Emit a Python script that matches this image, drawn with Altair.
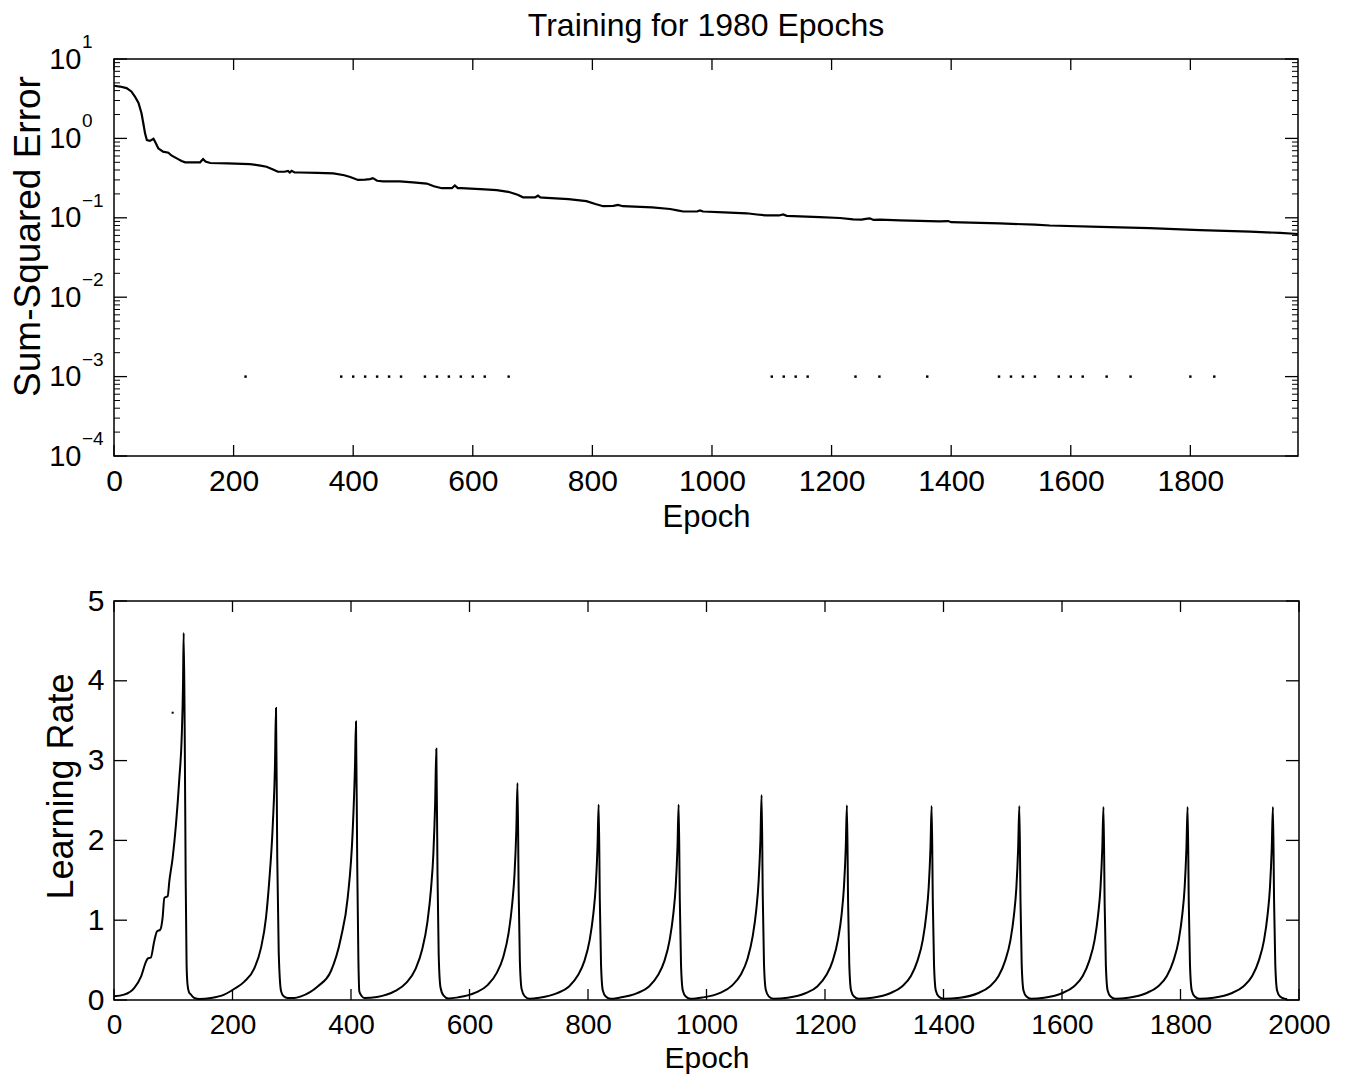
import altair as alt
import pandas as pd

FONT = "Liberation Sans"

# ---------------- top panel data (sum-squared error, log scale) ----------------
sse_epoch = [0, 10, 21, 29, 35, 41, 46, 49, 52, 55,
             60, 66, 70, 74, 82, 91, 96, 105, 113, 119,
             135, 144, 149, 153, 161, 190, 227, 245, 255, 265,
             274, 285, 291, 294, 297, 302, 311, 340, 367, 385,
             395, 408, 420, 428, 433, 440, 450, 478, 500, 523,
             535, 548, 565, 570, 575, 581, 620, 640, 662, 675,
             684, 704, 709, 713, 717, 760, 790, 805, 818, 835,
             843, 851, 900, 930, 942, 952, 975, 980, 985, 1020,
             1058, 1075, 1091, 1112, 1119, 1125, 1180, 1214, 1236, 1250,
             1260, 1264, 1270, 1281, 1314, 1380, 1395, 1400, 1481, 1540,
             1565, 1649, 1732, 1816, 1900, 1950, 1980]
sse_value = [4.6, 4.5, 4.3, 3.9, 3.37, 2.8, 2.07, 1.55, 1.15, 0.95,
             0.93, 0.99, 0.87, 0.75, 0.68, 0.66, 0.61, 0.56, 0.52, 0.50,
             0.50, 0.50, 0.55, 0.51, 0.49, 0.485, 0.475, 0.455, 0.44, 0.41,
             0.38, 0.38, 0.39, 0.372, 0.39, 0.372, 0.372, 0.367, 0.363, 0.344,
             0.326, 0.30, 0.302, 0.307, 0.316, 0.293, 0.288, 0.288, 0.279, 0.27,
             0.25, 0.236, 0.236, 0.256, 0.237, 0.236, 0.228, 0.223, 0.21, 0.195,
             0.181, 0.181, 0.19, 0.181, 0.18, 0.172, 0.162, 0.149, 0.14, 0.141,
             0.145, 0.14, 0.135, 0.129, 0.124, 0.12, 0.12, 0.124, 0.12, 0.117,
             0.114, 0.11, 0.107, 0.107, 0.11, 0.106, 0.102, 0.0995, 0.0958, 0.095,
             0.0977, 0.0986, 0.094, 0.095, 0.093, 0.090, 0.091, 0.088, 0.085, 0.082,
             0.080, 0.077, 0.074, 0.070, 0.067, 0.0645, 0.0625]

goal_epoch = [220, 380, 400, 420, 440, 460, 480, 520, 540, 560, 580, 600, 620, 660,
              1100, 1120, 1140, 1160, 1240, 1280, 1360, 1480, 1500, 1520, 1540,
              1580, 1600, 1620, 1660, 1700, 1800, 1840]
goal_level = 0.001

# ---------------- bottom panel data (learning rate) ----------------
cycle_epochs = [
    [0, 17, 34, 46, 54, 57, 62, 68, 72.6, 78, 82, 85, 90.6, 93.4, 99, 104.6, 110.3, 114.2, 116.5, 117.6,
     119.3, 121, 122.5, 124, 126.5, 130, 135.6, 144],
    [163.7, 186, 203, 220, 237, 248, 256.5, 262, 268, 271.7, 273.4, 275.5, 278, 282, 286.4, 293],
    [304.4, 315.6, 343.7, 366, 383, 394.4, 402.8, 406.8, 408.4, 410.5, 412.5, 414, 418, 422.5],
    [444, 474, 494, 509, 520, 529, 535, 539, 542, 544, 546, 548, 551, 556, 564],
    [581, 611, 631, 646, 657, 666, 672, 676, 679, 681, 683, 685, 688, 693, 701],
    [718, 748, 768, 783, 794, 803, 809, 813, 816, 818, 820, 822, 825, 830, 838],
    [853, 883, 903, 918, 929, 938, 944, 948, 951, 953, 955, 957, 960, 965, 973],
    [993, 1023, 1043, 1058, 1069, 1078, 1084, 1088, 1091, 1093, 1095, 1097, 1100, 1105, 1113],
    [1137, 1167, 1187, 1202, 1213, 1222, 1228, 1232, 1235, 1237, 1239, 1241, 1244, 1249, 1257],
    [1280, 1310, 1330, 1345, 1356, 1365, 1371, 1375, 1378, 1380, 1382, 1384, 1387, 1392, 1400],
    [1428, 1458, 1478, 1493, 1504, 1513, 1519, 1523, 1526, 1528, 1530, 1532, 1535, 1540, 1548],
    [1570, 1600, 1620, 1635, 1646, 1655, 1661, 1665, 1668, 1670, 1672, 1674, 1677, 1682, 1690],
    [1712, 1742, 1762, 1777, 1788, 1797, 1803, 1807, 1810, 1812, 1814, 1816, 1819, 1824, 1832],
    [1856, 1886, 1906, 1921, 1932, 1941, 1947, 1951, 1954, 1956, 1958, 1960, 1963, 1968, 1976, 1980],
]
cycle_rates = [
    [0.046, 0.067, 0.15, 0.30, 0.48, 0.52, 0.53, 0.74, 0.86, 0.88, 1.03, 1.28, 1.30, 1.49, 1.78, 2.2, 2.78, 3.28, 3.95, 4.60,
     3.4, 1.5, 0.45, 0.2, 0.1, 0.067, 0.025, 0.013],
    [0.025, 0.067, 0.14, 0.23, 0.40, 0.65, 1.03, 1.49, 2.2, 2.95, 3.66, 1.8, 0.6, 0.11, 0.046, 0.025],
    [0.025, 0.046, 0.17, 0.36, 0.78, 1.28, 2.11, 2.95, 3.49, 1.7, 0.5, 0.11, 0.05, 0.025],
    [0.038, 0.11, 0.22, 0.39, 0.63, 0.98, 1.39, 1.83, 2.46, 3.15, 1.58, 0.57, 0.16, 0.057, 0.019],
    [0.033, 0.095, 0.19, 0.34, 0.54, 0.84, 1.20, 1.58, 2.12, 2.72, 1.36, 0.49, 0.136, 0.049, 0.016],
    [0.029, 0.086, 0.17, 0.31, 0.49, 0.76, 1.08, 1.42, 1.91, 2.45, 1.23, 0.44, 0.12, 0.044, 0.015],
    [0.029, 0.086, 0.17, 0.31, 0.49, 0.76, 1.08, 1.42, 1.91, 2.45, 1.23, 0.44, 0.12, 0.044, 0.015],
    [0.031, 0.09, 0.18, 0.32, 0.51, 0.80, 1.13, 1.49, 2.0, 2.57, 1.29, 0.46, 0.13, 0.046, 0.015],
    [0.029, 0.085, 0.17, 0.31, 0.49, 0.76, 1.07, 1.42, 1.90, 2.44, 1.22, 0.44, 0.12, 0.044, 0.015],
    [0.029, 0.085, 0.17, 0.30, 0.49, 0.75, 1.07, 1.41, 1.90, 2.43, 1.22, 0.44, 0.12, 0.044, 0.015],
    [0.029, 0.085, 0.17, 0.30, 0.49, 0.75, 1.07, 1.41, 1.90, 2.43, 1.22, 0.44, 0.12, 0.044, 0.015],
    [0.029, 0.085, 0.17, 0.30, 0.49, 0.75, 1.07, 1.41, 1.90, 2.42, 1.21, 0.44, 0.12, 0.044, 0.015],
    [0.029, 0.085, 0.17, 0.30, 0.49, 0.75, 1.07, 1.41, 1.90, 2.42, 1.21, 0.44, 0.12, 0.044, 0.015],
    [0.029, 0.085, 0.17, 0.30, 0.49, 0.75, 1.07, 1.41, 1.90, 2.42, 1.21, 0.44, 0.12, 0.044, 0.015, 0.012],
]
stray_epoch = [99]
stray_rate = [3.6]

# ---------------- axis tick lists ----------------
top_x_ticks = [0, 200, 400, 600, 800, 1000, 1200, 1400, 1600, 1800]
top_decades = [1e-4, 1e-3, 1e-2, 1e-1, 1e0, 1e1]
top_exponents = ["\u22124", "\u22123", "\u22122", "\u22121", "0", "1"]
minor_mantissas = [2, 3, 4, 5, 6, 7, 8, 9]
bot_x_ticks = [0, 200, 400, 600, 800, 1000, 1200, 1400, 1600, 1800, 2000]
bot_y_ticks = [0, 1, 2, 3, 4, 5]

TW, TH = 1184, 397
BW, BH = 1185, 399
MAJ, MIN = 11, 6

# ---------------- frames ----------------
sse_df = pd.DataFrame({"x": sse_epoch, "y": sse_value})
goal_df = pd.DataFrame({"x": goal_epoch, "y": [goal_level] * len(goal_epoch)})
lr_e, lr_v = [], []
for e_list, v_list in zip(cycle_epochs, cycle_rates):
    lr_e += e_list
    lr_v += v_list
lr_df = pd.DataFrame({"x": lr_e, "y": lr_v})
stray_df = pd.DataFrame({"x": stray_epoch, "y": stray_rate})
tx_df = pd.DataFrame({"x": top_x_ticks})
ty_df = pd.DataFrame({"y": top_decades, "t": top_exponents})
tminor_df = pd.DataFrame({"y": [m * d for d in top_decades[:-1] for m in minor_mantissas]})
bx_df = pd.DataFrame({"x": bot_x_ticks})
by_df = pd.DataFrame({"y": bot_y_ticks})

base_kw = dict(labelFont=FONT, labelColor="black",
               titleFont=FONT, titleColor="black", titleFontWeight="normal",
               ticks=False, domain=False, grid=False, labelFlush=False, labelOverlap=False)

# ---------------- top panel ----------------
tx_scale = alt.Scale(domain=[0, 1980], nice=False, zero=False)
ty_scale = alt.Scale(type="log", domain=[1e-4, 10], nice=False)

top_line = alt.Chart(sse_df).mark_line(color="black", strokeWidth=2.2).encode(
    x=alt.X("x:Q", scale=tx_scale,
            axis=alt.Axis(values=top_x_ticks, format="d", title="Epoch", labelFontSize=30, titleFontSize=31,
                          labelPadding=10, titlePadding=6, **base_kw)),
    y=alt.Y("y:Q", scale=ty_scale,
            axis=alt.Axis(values=top_decades, labelExpr="'10'", title="Sum-Squared Error",
                          labelFontSize=29, titleFontSize=37, labelPadding=33, titlePadding=1,
                          titleY=177, **base_kw)),
)
top_goal = alt.Chart(goal_df).mark_square(size=6, color="black", opacity=1).encode(
    x=alt.X("x:Q", scale=tx_scale), y=alt.Y("y:Q", scale=ty_scale))
tx_bot = alt.Chart(tx_df).mark_rule(color="black", strokeWidth=1.3).encode(
    x=alt.X("x:Q", scale=tx_scale), y=alt.value(TH), y2=alt.value(TH - MAJ))
tx_top = alt.Chart(tx_df).mark_rule(color="black", strokeWidth=1.3).encode(
    x=alt.X("x:Q", scale=tx_scale), y=alt.value(0), y2=alt.value(MAJ))
ty_left = alt.Chart(ty_df).mark_rule(color="black", strokeWidth=1.3).encode(
    y=alt.Y("y:Q", scale=ty_scale), x=alt.value(0), x2=alt.value(MAJ + 2))
ty_right = alt.Chart(ty_df).mark_rule(color="black", strokeWidth=1.3).encode(
    y=alt.Y("y:Q", scale=ty_scale), x=alt.value(TW), x2=alt.value(TW - MAJ - 2))
tm_left = alt.Chart(tminor_df).mark_rule(color="black", strokeWidth=1).encode(
    y=alt.Y("y:Q", scale=ty_scale), x=alt.value(0), x2=alt.value(MIN))
tm_right = alt.Chart(tminor_df).mark_rule(color="black", strokeWidth=1).encode(
    y=alt.Y("y:Q", scale=ty_scale), x=alt.value(TW), x2=alt.value(TW - MIN))
t_exp = alt.Chart(ty_df).mark_text(align="left", baseline="middle", dy=-17, font=FONT,
                                   fontSize=19, color="black").encode(
    y=alt.Y("y:Q", scale=ty_scale), x=alt.value(-32), text="t:N")

top = alt.layer(top_line, top_goal, tx_bot, tx_top, ty_left, ty_right, tm_left, tm_right, t_exp).properties(
    width=TW, height=TH,
    title=alt.TitleParams("Training for 1980 Epochs", font=FONT, fontSize=32, fontWeight="normal",
                          color="black", anchor="middle", offset=-10))

# ---------------- bottom panel ----------------
bx_scale = alt.Scale(domain=[0, 2000], nice=False, zero=False)
by_scale = alt.Scale(domain=[0, 5], nice=False)

bot_line = alt.Chart(lr_df).mark_line(color="black", strokeWidth=2, interpolate="monotone").encode(
    x=alt.X("x:Q", scale=bx_scale,
            axis=alt.Axis(values=bot_x_ticks, format="d", title="Epoch", labelFontSize=28, titleFontSize=30,
                          labelPadding=11, titlePadding=4, **base_kw)),
    y=alt.Y("y:Q", scale=by_scale,
            axis=alt.Axis(values=bot_y_ticks, format="d", title="Learning Rate", labelFontSize=30,
                          titleFontSize=36, labelPadding=10, titlePadding=7, titleY=185, **base_kw)),
)
bot_stray = alt.Chart(stray_df).mark_square(size=4, color="black", opacity=1).encode(
    x=alt.X("x:Q", scale=bx_scale), y=alt.Y("y:Q", scale=by_scale))
bx_bot = alt.Chart(bx_df).mark_rule(color="black", strokeWidth=1.3).encode(
    x=alt.X("x:Q", scale=bx_scale), y=alt.value(BH), y2=alt.value(BH - MAJ))
bx_top = alt.Chart(bx_df).mark_rule(color="black", strokeWidth=1.3).encode(
    x=alt.X("x:Q", scale=bx_scale), y=alt.value(0), y2=alt.value(MAJ))
by_left = alt.Chart(by_df).mark_rule(color="black", strokeWidth=1.3).encode(
    y=alt.Y("y:Q", scale=by_scale), x=alt.value(0), x2=alt.value(MAJ + 2))
by_right = alt.Chart(by_df).mark_rule(color="black", strokeWidth=1.3).encode(
    y=alt.Y("y:Q", scale=by_scale), x=alt.value(BW), x2=alt.value(BW - MAJ - 2))

bottom = alt.layer(bot_line, bot_stray, bx_bot, bx_top, by_left, by_right).properties(width=BW, height=BH)

chart = alt.vconcat(top, bottom, spacing=52).properties(
    padding={"left": 0, "top": 1, "right": 5, "bottom": 0},
    background="white",
).configure_view(stroke="black", strokeWidth=1.5)

chart.save("out.html", embed_options={"renderer": "svg", "actions": False})
